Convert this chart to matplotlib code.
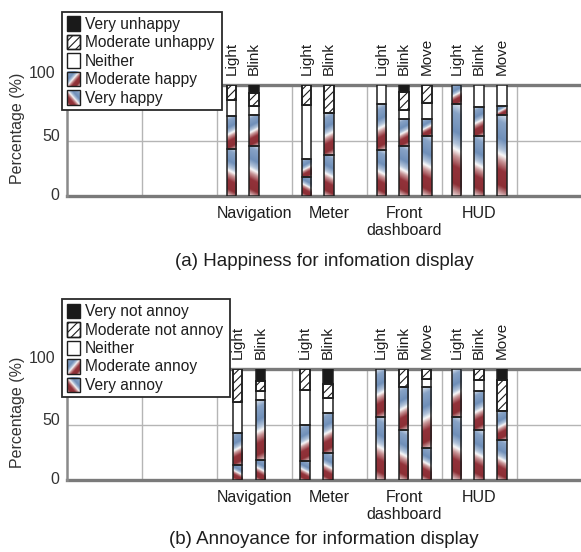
import numpy as np
import matplotlib
matplotlib.use("Agg")
import matplotlib.pyplot as plt
from matplotlib.colors import LinearSegmentedColormap
from matplotlib.patches import Rectangle
from matplotlib.transforms import ScaledTranslation

plt.rcParams["font.family"] = ["Liberation Sans", "DejaVu Sans"]
plt.rcParams["hatch.linewidth"] = 0.8
plt.rcParams["hatch.color"] = "#1a1a1a"

# ---------------------------------------------------------------- data
groups = ["Navigation", "Meter", "Front\ndashboard", "HUD"]
variants = [["Light", "Blink"], ["Light", "Blink"],
            ["Light", "Blink", "Move"], ["Light", "Blink", "Move"]]

happy_levels = ["Very happy", "Moderate happy", "Neither",
                "Moderate unhappy", "Very unhappy"]
annoy_levels = ["Very annoy", "Moderate annoy", "Neither",
                "Moderate not annoy", "Very not annoy"]

# percentages per bar (Nav L/B, Meter L/B, Front L/B/M, HUD L/B/M)
happy_very = [42.6, 45.3, 17.4, 37.3, 41.3, 45.3, 54.5, 82.6, 54.5, 73.0]
happy_moderate = [29.5, 27.7, 15.8, 37.3, 41.4, 24.0, 14.7, 17.4, 26.1, 8.5]
happy_neither = [14.4, 8.4, 49.2, 0.0, 17.3, 7.9, 14.3, 0.0, 19.4, 18.5]
unhappy_moderate = [13.5, 11.0, 17.6, 25.4, 0.0, 16.8, 16.5, 0.0, 0.0, 0.0]
unhappy_very = [0.0, 7.6, 0.0, 0.0, 0.0, 6.0, 0.0, 0.0, 0.0, 0.0]

annoy_very = [13.2, 18.3, 16.9, 24.2, 57.0, 45.0, 29.0, 57.0, 45.0, 36.5]
annoy_moderate = [29.3, 53.9, 32.8, 36.7, 43.0, 38.9, 55.0, 43.0, 35.1, 25.6]
annoy_neither = [28.2, 8.6, 31.6, 13.0, 0.0, 0.0, 7.2, 0.0, 10.1, 0.0]
not_annoy_moderate = [29.3, 9.0, 18.7, 12.5, 0.0, 16.1, 8.8, 0.0, 9.8, 27.9]
not_annoy_very = [0.0, 10.2, 0.0, 13.6, 0.0, 0.0, 0.0, 0.0, 0.0, 10.0]

happy_series = [happy_very, happy_moderate, happy_neither,
                unhappy_moderate, unhappy_very]
annoy_series = [annoy_very, annoy_moderate, annoy_neither,
                not_annoy_moderate, not_annoy_very]

# ---------------------------------------------------------------- style
W_PX, H_PX, DPI = 581, 552, 100
AX_LEFT_PX = 66.7
CELL_PX = 75.0
BAR_W = 9.5 / CELL_PX
SLOTS = [0.195, 0.5, 0.805]
GROUP_CELLS = [2, 3, 4, 5]
SEG_STYLES = ["grad_back", "grad_fwd", "plain", "hatch", "solid"]
EDGE = "#1e1e1e"
TEXT = "#1e1e1e"

cmap = LinearSegmentedColormap.from_list("steel_wine", [
    (0.00, "#e4eaf2"), (0.12, "#88a3c6"), (0.32, "#6f8fb9"),
    (0.44, "#b3c4da"), (0.50, "#fafafa"), (0.57, "#c99799"),
    (0.68, "#92323a"), (0.86, "#8c2f35"), (1.00, "#f0e3e3")])


def grad_values(h_px, w_px, tilt, drop):
    ny = max(int(round(h_px * 3)), 3)
    nx = max(int(round(w_px * 3)), 3)
    v = (np.arange(ny) + 0.5) / ny
    u = (np.arange(nx) + 0.5) / nx
    V, U = np.meshgrid(v, u, indexing="ij")
    if tilt == "back":
        s = V * h_px - U * drop + drop
    else:
        s = V * h_px + U * drop
    return s / (h_px + drop)


def draw_segment(ax, x0, y0, w, h, style, w_px, h_px, drop, lw, img_extent):
    """Rectangle with lower-left (x0, y0) filled in the given style."""
    if style.startswith("grad"):
        vals = grad_values(h_px, w_px, "back" if style == "grad_back" else "fwd", drop)
        ax.imshow(vals, cmap=cmap, vmin=0, vmax=1, origin="upper",
                  extent=img_extent, aspect="auto",
                  interpolation="bilinear", zorder=3)
        ax.add_patch(Rectangle((x0, y0), w, h, fill=False, ec=EDGE, lw=lw, zorder=4))
    elif style == "hatch":
        ax.add_patch(Rectangle((x0, y0), w, h, fc="white", ec=EDGE, lw=lw,
                               hatch="////", zorder=3))
        ax.add_patch(Rectangle((x0, y0), w, h, fill=False, ec=EDGE, lw=lw, zorder=4))
    elif style == "solid":
        ax.add_patch(Rectangle((x0, y0), w, h, fc="#1a1a1a", ec=EDGE, lw=lw, zorder=3))
    else:
        ax.add_patch(Rectangle((x0, y0), w, h, fc="white", ec=EDGE, lw=lw, zorder=3))


fig = plt.figure(figsize=(W_PX / DPI, H_PX / DPI), dpi=DPI)


def panel(top_px, bottom_px, series, levels, title, title_y_px,
          legend_box, group_shift):
    left = AX_LEFT_PX / W_PX
    ax = fig.add_axes([left, 1 - bottom_px / H_PX, 1 - left,
                       (bottom_px - top_px) / H_PX])
    xmax = (W_PX - AX_LEFT_PX) / CELL_PX
    px_per_unit = (bottom_px - top_px) / 100.0

    # frame and grid
    for s in ["top", "right", "bottom"]:
        ax.spines[s].set_visible(False)
    ax.spines["left"].set_color("#8a8a8a")
    ax.spines["left"].set_linewidth(1.8)
    ax.vlines(np.arange(1, 7), 0, 100, color="#b5b5b5", lw=1.0, zorder=1)
    ax.axhline(50, color="#b5b5b5", lw=1.0, zorder=1)
    ax.axhline(0, color="#7a7a7a", lw=2.4, zorder=2, clip_on=False)
    ax.axhline(100, color="#7a7a7a", lw=2.4, zorder=2, clip_on=False)
    ax.set_xticks([])
    ax.set_yticks([])

    # y tick labels
    for val, dx, dy in [(0, 0, 0), (50, 0, 4), (100, -4, 11)]:
        tr = ax.get_yaxis_transform() + ScaledTranslation((dx - 7) / DPI, dy / DPI,
                                                          fig.dpi_scale_trans)
        ax.text(0, val, str(val), transform=tr, ha="right", va="center",
                fontsize=11.5, color="#333333")
    fig.text(18 / W_PX, 1 - (top_px + 43) / H_PX, "Percentage (%)", rotation=90,
             ha="center", va="center", fontsize=11.5, color="#333333")

    # stacked bars
    i = 0
    for g, cell in enumerate(GROUP_CELLS):
        for j, var in enumerate(variants[g]):
            xc = cell + SLOTS[j] + group_shift[g]
            x0 = xc - BAR_W / 2
            bottom = 0.0
            for k, vals in enumerate(series):
                v = vals[i]
                if v <= 0:
                    continue
                draw_segment(ax, x0, bottom, BAR_W, v, SEG_STYLES[k],
                             BAR_W * CELL_PX, v * px_per_unit, 5.0, 1.1,
                             [x0, x0 + BAR_W, bottom, bottom + v])
                bottom += v
            ax.annotate(var, (xc, 100), xytext=(0, 7.2), textcoords="offset points",
                        rotation=90, ha="center", va="bottom", fontsize=11,
                        color=TEXT)
            i += 1
        ax.annotate(groups[g], (cell + 0.5, 0), xytext=(0, -7),
                    textcoords="offset points", ha="center", va="top",
                    fontsize=11.5, color=TEXT, linespacing=1.2)

    ax.set_xlim(0, xmax)
    ax.set_ylim(0, 100)

    fig.text(324 / W_PX, 1 - title_y_px / H_PX, title, ha="center", va="center",
             fontsize=13.5, color=TEXT)

    # legend box (pixel coordinates, y downward)
    bx0, by0, bx1, by1 = legend_box
    lax = fig.add_axes([bx0 / W_PX, 1 - by1 / H_PX, (bx1 - bx0) / W_PX,
                        (by1 - by0) / H_PX])
    lax.set_zorder(10)
    w, h = bx1 - bx0, by1 - by0
    lax.axis("off")
    lax.add_patch(Rectangle((0, 0), w, h, fc="white", ec="#2a2a2a", lw=1.3,
                            zorder=0, clip_on=False))
    sw_w, sw_h = 13.0, 14.5
    for r, k in enumerate(range(len(levels) - 1, -1, -1)):
        cy = 12 + 18.5 * r
        y_top, y_bot = cy - sw_h / 2, cy + sw_h / 2
        draw_segment(lax, 5, y_top, sw_w, sw_h, SEG_STYLES[k], sw_w, sw_h,
                     sw_h, 1.0, [5, 5 + sw_w, y_bot, y_top])
        lax.text(23, cy + 0.5, levels[k], ha="left", va="center", fontsize=11.2,
                 color=TEXT)
    lax.set_xlim(0, w)
    lax.set_ylim(h, 0)
    return ax


panel(85.0, 196.0, happy_series, happy_levels,
      "(a) Happiness for infomation display", 262,
      (62, 11.5, 222, 110), [0.0, 0.0, 0.0, 0.0])
panel(369.3, 480.0, annoy_series, annoy_levels,
      "(b) Annoyance for information display", 540,
      (62, 299, 230, 397), [0.083, -0.015, -0.01, 0.0])

fig.savefig("out.png", dpi=DPI)
